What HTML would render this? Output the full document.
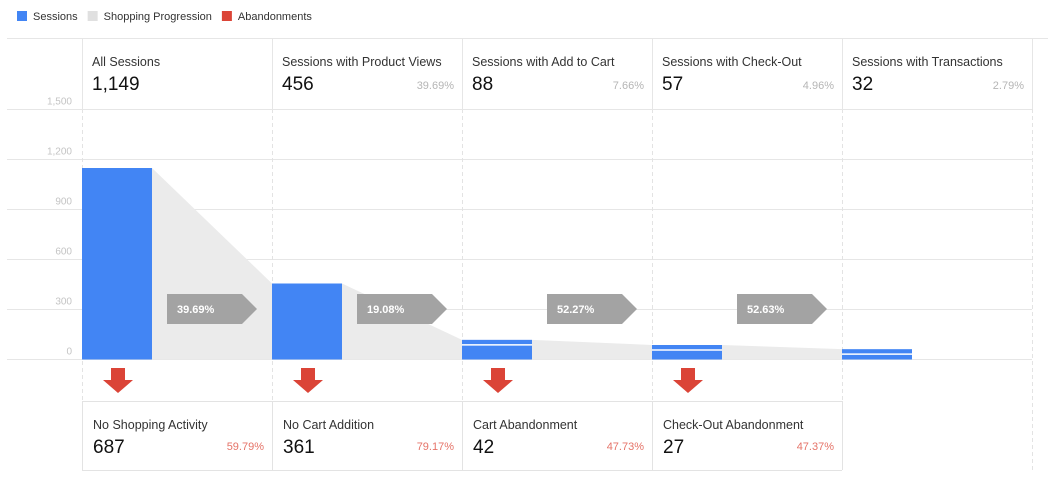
<!DOCTYPE html>
<html><head><meta charset="utf-8"><style>
body{margin:0;background:#fff;font-family:"Liberation Sans",Arial,sans-serif;}
svg{display:block}
</style></head><body>
<svg id="c" width="1048" height="484" viewBox="0 0 1048 484"></svg>
<script>
const steps=["All Sessions","Sessions with Product Views","Sessions with Add to Cart","Sessions with Check-Out","Sessions with Transactions"];
const sessions=[1149,456,88,57,32];
const stepPct=["","39.69%","7.66%","4.96%","2.79%"];
const progressPct=["39.69%","19.08%","52.27%","52.63%"];
const abandonNames=["No Shopping Activity","No Cart Addition","Cart Abandonment","Check-Out Abandonment"];
const abandonVals=[687,361,42,27];
const abandonPct=["59.79%","79.17%","47.73%","47.37%"];
const yTicks=[0,300,600,900,1200,1500];
const NS="http://www.w3.org/2000/svg";
const svg=document.getElementById('c');
function el(t,a,p){const e=document.createElementNS(NS,t);for(const k in a)e.setAttribute(k,a[k]);(p||svg).appendChild(e);return e;}
function tx(x,y,s,size,fill,anchor,weight){const e=el('text',{x:x,y:y,'font-size':size,fill:fill,'text-anchor':anchor||'start','font-weight':weight||'normal'});e.textContent=s;return e;}
const y0=359.5,ppu=200/1200;
const Y=v=>y0-v*ppu;
const colX=i=>82+i*190;
// legend
const leg=[["Sessions","#4285f4"],["Shopping Progression","#e0e0e0"],["Abandonments","#db4437"]];
let lx=17;
leg.forEach(l=>{const g=el('g',{});
el('rect',{x:lx,y:11,width:10,height:10,fill:l[1]},g);const t=tx(lx+16,20,l[0],11,'#333');g.appendChild(t);lx+=16+t.getComputedTextLength()+10;});
// frame lines
el('line',{x1:7,x2:1048,y1:38.5,y2:38.5,stroke:'#e6e6e6'});
// gridlines
yTicks.forEach(v=>{const g=el('g',{});
el('line',{x1:7,x2:1032,y1:Y(v),y2:Y(v),stroke:'#e6e6e6'},g);
const t=tx(72,Y(v)-5,v.toLocaleString('en-US'),10,'#c4c4c4','end');g.appendChild(t);});
// column separators
for(let i=0;i<=5;i++){const x=colX(i)+0.5;
 el('line',{x1:x,x2:x,y1:38,y2:109,stroke:'#e6e6e6'});
 el('line',{x1:x,x2:x,y1:109,y2:470,stroke:'#e3e3e3','stroke-dasharray':'4,3'});}
// bar tops
const tops=sessions.map(v=>{const h=v*ppu;return h<20?Y(v)-5:Y(v);});
// progression polygons
for(let i=0;i<sessions.length-1;i++){
 const p=el('polygon',{points:`${colX(i)+70},${tops[i]} ${colX(i+1)},${tops[i+1]} ${colX(i+1)},${y0} ${colX(i)+70},${y0}`,fill:'#ebebeb'});
 }
// bars
sessions.forEach((v,i)=>{const x=colX(i);const g=el('g',{});
 el('rect',{x:x,y:tops[i],width:70,height:y0-tops[i],fill:'#4285f4'},g);
 if(tops[i]<Y(v)) el('line',{x1:x,x2:x+70,y1:Y(v),y2:Y(v),stroke:'#fff','stroke-width':1.5},g);});
// progression arrows
progressPct.forEach((p,i)=>{const x=colX(i)+85;const g=el('g',{});
 el('polygon',{points:`${x},294 ${x+75},294 ${x+90},309 ${x+75},324 ${x},324`,fill:'#a3a3a3'},g);
 g.appendChild(tx(x+10,313,p,11,'#fff','start','bold'));});
// step headers
steps.forEach((s,i)=>{const x=colX(i)+10;const g=el('g',{});
 g.appendChild(tx(x,66,s,12.5,'#333'));
 g.appendChild(tx(x,90,sessions[i].toLocaleString('en-US'),19,'#111'));
 if(stepPct[i])g.appendChild(tx(colX(i)+182,89,stepPct[i],11,'#b5b5b5','end'));});
el('line',{x1:82,x2:1032,y1:109.5,y2:109.5,stroke:'#e6e6e6'});
// abandonments
el('line',{x1:82,x2:842,y1:401.5,y2:401.5,stroke:'#e3e3e3'});
el('line',{x1:82,x2:842,y1:470.5,y2:470.5,stroke:'#e3e3e3'});
abandonNames.forEach((n,i)=>{const x=colX(i);
 const a=el('polygon',{points:`${x+29},368 ${x+43},368 ${x+43},380 ${x+51},380 ${x+36},393 ${x+21},380 ${x+29},380`,fill:'#db4437'});
 
 el('line',{x1:x+0.5,x2:x+0.5,y1:401,y2:470,stroke:'#e3e3e3'});
 const g=el('g',{});
 g.appendChild(tx(x+11,429,n,12.5,'#333'));
 g.appendChild(tx(x+11,453,abandonVals[i].toLocaleString('en-US'),19,'#111'));
 g.appendChild(tx(x+182,450,abandonPct[i],11,'#e57368','end'));});
el('line',{x1:842.5,x2:842.5,y1:401,y2:470,stroke:'#e3e3e3'});
</script>
</body></html>
